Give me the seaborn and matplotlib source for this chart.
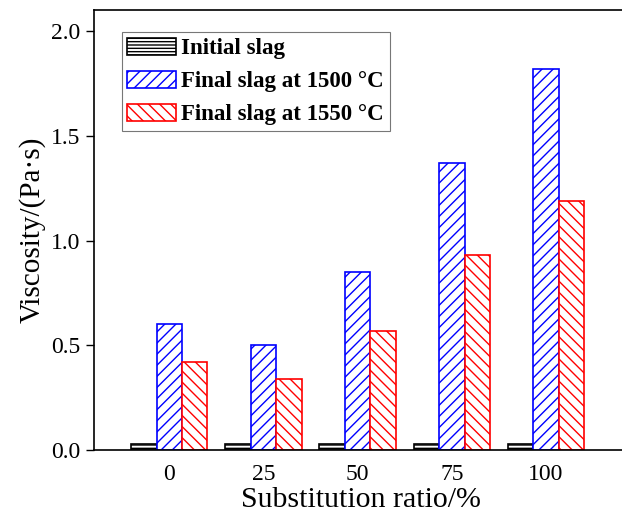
import seaborn as sb
import matplotlib.pyplot as plt
import pandas as pd
from matplotlib.patches import Patch

# values
ratios = ['0', '25', '50', '75', '100']
initial = [0.03, 0.03, 0.03, 0.03, 0.03]
final_1500 = [0.60, 0.50, 0.85, 1.37, 1.82]
final_1550 = [0.42, 0.34, 0.57, 0.93, 1.19]
series = ['Initial slag', 'Final slag at 1500 \u00b0C', 'Final slag at 1550 \u00b0C']
colors = ['black', 'blue', 'red']
hatches = ['-----', '///', '\\\\\\']

df = pd.DataFrame({
    'ratio': ratios * 3,
    'visc': initial + final_1500 + final_1550,
    'kind': [series[0]] * 5 + [series[1]] * 5 + [series[2]] * 5,
})

sb.set_style('ticks')
plt.rcParams['font.family'] = ['Liberation Serif', 'DejaVu Serif']
plt.rcParams['hatch.linewidth'] = 1.0
for k in ['text.color', 'axes.labelcolor', 'xtick.color', 'ytick.color', 'axes.edgecolor']:
    plt.rcParams[k] = 'black'

fig = plt.figure(figsize=(6.22, 5.2), dpi=100)
ax = fig.add_axes([0.151, 0.135, 0.86, 0.845])
sb.barplot(data=df, x='ratio', y='visc', hue='kind', order=ratios, hue_order=series,
           width=0.81, ax=ax, legend=False, errorbar=None)

for cont, c, h in zip(ax.containers, colors, hatches):
    for p in cont.patches:
        p.set_facecolor('white')
        p.set_edgecolor(c)
        p.set_hatch(h)
        p.set_linewidth(1.2)

handles = [Patch(facecolor='white', edgecolor=c, hatch=h, linewidth=1.2) for c, h in zip(colors, hatches)]
leg = ax.legend(handles, series, loc='upper left', bbox_to_anchor=(0.052, 0.95),
                prop={'family': 'Liberation Serif', 'weight': 'bold', 'size': 16.5},
                frameon=True, fancybox=False, edgecolor='#555555', handlelength=2.1,
                handleheight=0.75, labelspacing=0.5, borderpad=0.25, handletextpad=0.25,
                borderaxespad=0)
leg.get_frame().set_linewidth(0.8)

ax.set_ylim(0, 2.1)
ax.set_xlim(-0.8, 4.88)
ax.set_yticks([0.0, 0.5, 1.0, 1.5, 2.0])
ax.set_yticklabels(['0.0', '0.5', '1.0', '1.5', '2.0'])
ax.tick_params(axis='y', direction='out', length=6, width=1, labelsize=17)
ax.tick_params(axis='x', length=0, labelsize=17, pad=10)
for s in ax.spines.values():
    s.set_linewidth(1.2)
    s.set_visible(True)
ax.set_xlabel('Substitution ratio/%', fontsize=21.5, labelpad=2)
ax.set_ylabel('Viscosity/(Pa\u00b7s)', fontsize=21)

plt.savefig('out.png', dpi=100)
